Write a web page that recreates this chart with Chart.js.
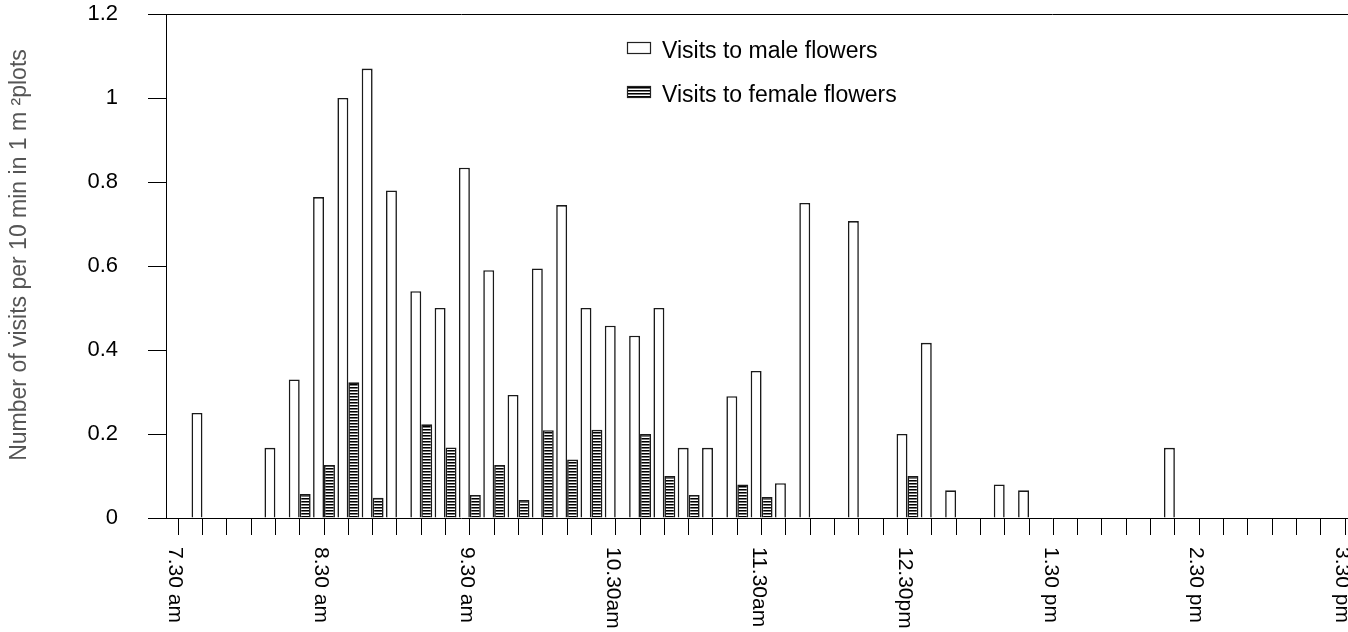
<!DOCTYPE html>
<html>
<head>
<meta charset="utf-8">
<script src="https://cdn.jsdelivr.net/npm/chart.js@4.4.1/dist/chart.umd.min.js"></script>
<style>
  html, body { margin: 0; padding: 0; background: #fff; }
  #wrap { width: 1348px; height: 632px; }
</style>
</head>
<body>
<div id="wrap"><canvas id="grafica"></canvas></div>
<script>
// 10 minute slots from 7.30 am to 3.30 pm
const categories = ['7.30','7.40','7.50','8.00','8.10','8.20','8.30','8.40','8.50','9.00',
  '9.10','9.20','9.30','9.40','9.50','10.00','10.10','10.20','10.30','10.40',
  '10.50','11.00','11.10','11.20','11.30','11.40','11.50','12.00','12.10','12.20',
  '12.30','12.40','12.50','1.00','1.10','1.20','1.30','1.40','1.50','2.00',
  '2.10','2.20','2.30','2.40','2.50','3.00','3.10','3.20','3.30'];
const maleVisits = [0, 0.25, 0, 0, 0.167, 0.33, 0.764, 1.0, 1.07, 0.78,
  0.54, 0.5, 0.834, 0.59, 0.293, 0.594, 0.745, 0.5, 0.458, 0.434,
  0.5, 0.167, 0.167, 0.29, 0.35, 0.083, 0.75, 0, 0.707, 0,
  0.2, 0.417, 0.066, 0, 0.08, 0.066, 0, 0, 0, 0,
  0, 0.167, 0, 0, 0, 0, 0, 0, 0];
const femaleVisits = [0, 0, 0, 0, 0, 0.057, 0.126, 0.323, 0.048, 0,
  0.223, 0.168, 0.055, 0.126, 0.043, 0.209, 0.139, 0.21, 0, 0.2,
  0.1, 0.055, 0, 0.08, 0.05, 0, 0, 0, 0, 0,
  0.1, 0, 0, 0, 0, 0, 0, 0, 0, 0,
  0, 0, 0, 0, 0, 0, 0, 0, 0];
const seriesNames = ['Visits to male flowers', 'Visits to female flowers'];
const hourIndex = [0, 6, 12, 18, 24, 30, 36, 42, 48];
const tickLabels = ['7.30 am', '8.30 am', '9.30 am', '10.30am', '11.30am', '12.30pm', '1.30 pm', '2.30 pm', '3.30 pm'];
const yTitle = 'Number of visits per 10 min in 1 m \u00b2plots';

const FONT = '"Liberation Sans", Arial, sans-serif';
Chart.defaults.font.family = FONT;

// horizontal hatch for the female bars
function makeHatch() {
  const c = document.createElement('canvas');
  c.width = 4; c.height = 3;
  const g = c.getContext('2d');
  g.fillStyle = '#fff'; g.fillRect(0, 0, 4, 3);
  g.fillStyle = '#000'; g.fillRect(0, 0, 4, 1);
  g.fillStyle = '#777'; g.fillRect(0, 1, 4, 1);
  return g.createPattern(c, 'repeat');
}
const context = document.getElementById('grafica').getContext('2d');
const hatch = makeHatch();

// axis title, x labels (rotated clockwise), top frame line and legend
const extras = {
  id: 'extras',
  afterDraw(chart) {
    const ctx = chart.ctx;
    const a = chart.chartArea;
    const xs = chart.scales.x;
    const yTop = Math.round(chart.scales.y.getPixelForValue(1.2)) + 0.5;
    ctx.save();
    ctx.strokeStyle = '#000';
    ctx.lineWidth = 1;
    ctx.beginPath();
    ctx.moveTo(a.left, yTop);
    ctx.lineTo(chart.width, yTop);
    ctx.stroke();

    ctx.save();
    ctx.fillStyle = '#555';
    ctx.font = '23px ' + FONT;
    ctx.textAlign = 'center';
    ctx.textBaseline = 'middle';
    ctx.translate(20, a.top + 241);
    ctx.rotate(-Math.PI / 2);
    ctx.fillText(yTitle, 0, 0);
    ctx.restore();

    ctx.fillStyle = '#000';
    ctx.font = '21px ' + FONT;
    ctx.textAlign = 'left';
    ctx.textBaseline = 'middle';
    hourIndex.forEach((idx, k) => {
      ctx.save();
      ctx.translate(xs.getPixelForValue(idx) - 3, a.bottom + 29);
      ctx.rotate(Math.PI / 2);
      ctx.fillText(tickLabels[k], 0, 0);
      ctx.restore();
    });

    const lx = a.left + 461;
    const rows = [a.top + 28, a.top + 72];
    const fills = ['#fff', hatch];
    ctx.font = '23px ' + FONT;
    rows.forEach((ry, k) => {
      ctx.fillStyle = fills[k];
      ctx.fillRect(lx, ry, 24, 12);
      ctx.strokeStyle = '#222';
      ctx.lineWidth = 1.2;
      ctx.strokeRect(lx + 0.5, ry + 0.5, 23, 11);
      ctx.fillStyle = '#000';
      ctx.fillText(seriesNames[k], lx + 35, ry + 10);
    });
    ctx.restore();
  }
};

const config = {
  type: 'bar',
  data: {
    datasets: [{
      label: seriesNames[0],
      data: maleVisits.map((v, i) => ({x: i, y: v})),
      backgroundColor: '#fff',
      borderColor: '#1a1a1a',
      borderWidth: 1.6,
      categoryPercentage: 0.9,
      barPercentage: 1
    }, {
      label: seriesNames[1],
      data: femaleVisits.map((v, i) => ({x: i, y: v})),
      backgroundColor: hatch,
      borderColor: '#1a1a1a',
      borderWidth: 1.6,
      categoryPercentage: 0.9,
      barPercentage: 1
    }]
  },
  options: {
    responsive: true,
    maintainAspectRatio: false,
    animation: false,
    layout: { padding: { top: 14, right: 1, bottom: 97, left: 0 } },
    plugins: { legend: { display: false }, tooltip: { enabled: false } },
    scales: {
      x: {
        type: 'linear',
        min: -0.5,
        max: 48.08,
        offset: false,
        afterBuildTicks: s => { s.ticks = categories.map((c, i) => ({value: i})); },
        afterFit: s => { s.height = 17; s.paddingLeft = 0; s.paddingRight = 0; },
        ticks: { display: false },
        grid: { offset: false, drawOnChartArea: false, tickLength: 17, color: '#000', lineWidth: 1 },
        border: { color: '#000', width: 1 }
      },
      y: {
        min: 0,
        max: 1.2,
        afterFit: s => { s.width = 166; s.paddingTop = 0; s.paddingBottom = 0; },
        ticks: {
          stepSize: 0.2, color: '#000', font: { size: 22 }, padding: 30,
          callback: v => String(+v.toFixed(1))
        },
        grid: { drawOnChartArea: false, tickLength: 18, color: '#000', lineWidth: 1 },
        border: { color: '#000', width: 1 }
      }
    }
  },
  plugins: [extras]
};
window.myChart = new Chart(context, config);
</script>
</body>
</html>
